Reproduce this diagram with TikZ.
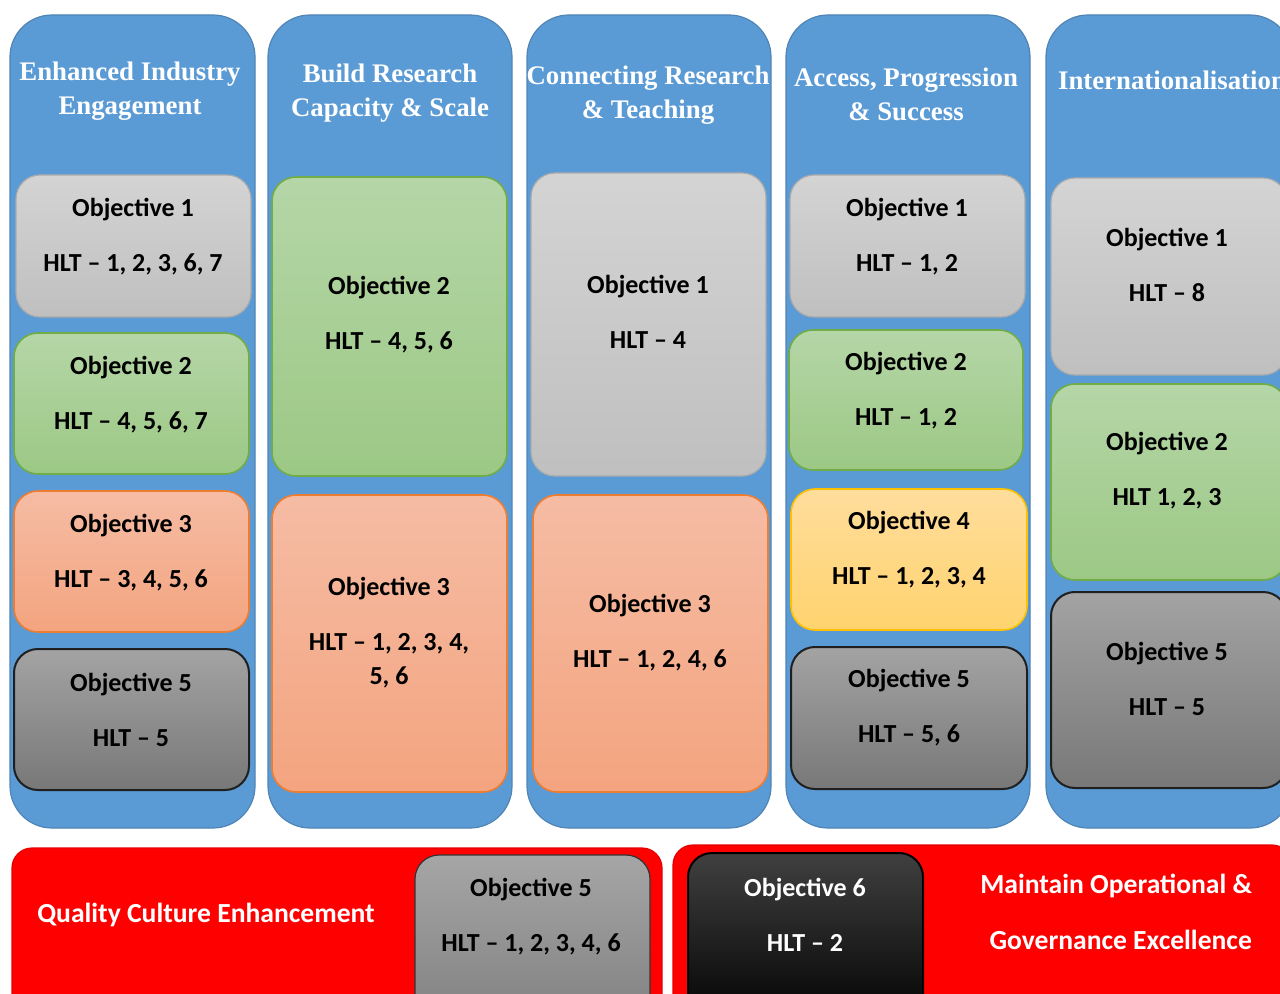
\documentclass[tikz,border=0pt]{standalone}
\usepackage{fontspec}
\setmainfont{Liberation Serif}
\newfontfamily\calibri{Carlito}
\definecolor{pillarblue}{HTML}{5B9BD5}
\definecolor{pillarline}{HTML}{4F84B5}
\definecolor{barred}{HTML}{FF0000}
\tikzset{
  pillar/.style={fill=pillarblue,draw=pillarline,line width=0.6pt,rounded corners=21pt}, % blue columns
  objgrey/.style={top color=black!17,bottom color=black!25,draw=black!33,line width=0.6pt,rounded corners=12pt},
  objgreen/.style={top color={rgb,255:red,181;green,214;blue,167},bottom color={rgb,255:red,156;green,200;blue,133},draw={rgb,255:red,112;green,173;blue,71},line width=0.8pt,rounded corners=12pt},
  objorange/.style={top color={rgb,255:red,245;green,188;blue,164},bottom color={rgb,255:red,244;green,164;blue,127},draw={rgb,255:red,237;green,125;blue,49},line width=0.8pt,rounded corners=12pt},
  objyellow/.style={top color={rgb,255:red,255;green,221;blue,156},bottom color={rgb,255:red,255;green,211;blue,110},draw={rgb,255:red,255;green,192;blue,0},line width=0.8pt,rounded corners=12pt},
  objdark/.style={top color=black!36,bottom color=black!53,draw=black!88,line width=1pt,rounded corners=12pt},
  objblack/.style={top color=black!75,bottom color=black,draw=black,line width=1pt,rounded corners=12pt},
  redbar/.style={fill=barred,draw=barred!90!black,line width=0.6pt,rounded corners=10pt}, % bottom bars
  head/.style={text=white,align=center,font={\bfseries\fontsize{13.4}{17}\selectfont}}, % pillar titles
  objtxt/.style={align=center,font={\calibri\bfseries\fontsize{13}{27.5}\selectfont}}, % objective texts
  bartxt/.style={text=white,font={\calibri\bfseries\fontsize{13.8}{28}\selectfont}}
}
\begin{document}
\begin{tikzpicture}[x=0.5pt,y=-0.5pt]
\clip (0,0) rectangle (1280,994);

% pillars
\draw[pillar] (10,15) rectangle (255,828);
\draw[pillar] (268,15) rectangle (512,828);
\draw[pillar] (527,15) rectangle (771,828);
\draw[pillar] (786,15) rectangle (1030,828);
\draw[pillar] (1046,15) rectangle (1292,828);

\node[head] (head1) at (130,91) {Enhanced Industry\\Engagement};
\node[head] (head2) at (390,93) {Build Research\\Capacity \& Scale};
\node[head] (head3) at (648,95) {Connecting Research\\\& Teaching};
\node[head] (head4) at (906,94) {Access, Progression\\\& Success};
\node[head] (head5) at (1172,80) {Internationalisation};

% pillar 1
\draw[objgrey] (16,175) rectangle (251,317);
\node[objtxt] (p1o1) at (133,237) {Objective 1\\HLT – 1, 2, 3, 6, 7};
\draw[objgreen] (14,333) rectangle (249,474);
\node[objtxt] (p1o2) at (131,395) {Objective 2\\HLT – 4, 5, 6, 7};
\draw[objorange] (14,491) rectangle (249,632);
\node[objtxt] (p1o3) at (131,553) {Objective 3\\HLT – 3, 4, 5, 6};
\draw[objdark] (14,649) rectangle (249,790);
\node[objtxt] (p1o5) at (131,710) {Objective 5\\HLT – 5};

% pillar 2
\draw[objgreen] (272,177) rectangle (507,476);
\node[objtxt] (p2o2) at (389,315) {Objective 2\\HLT – 4, 5, 6};
\draw[objorange] (272,495) rectangle (507,792);
\node[objtxt] (p2o3) at (389,633) {Objective 3\\HLT – 1, 2, 3, 4,\\[-10.5pt]5, 6};

% pillar 3
\draw[objgrey] (531,173) rectangle (766,476);
\node[objtxt] (p3o1) at (648,312) {Objective 1\\HLT – 4};
\draw[objorange] (533,495) rectangle (768,792);
\node[objtxt] (p3o3) at (650,633) {Objective 3\\HLT – 1, 2, 4, 6};

% pillar 4
\draw[objgrey] (790,175) rectangle (1025,317);
\node[objtxt] (p4o1) at (907,237) {Objective 1\\HLT – 1, 2};
\draw[objgreen] (789,330) rectangle (1023,470);
\node[objtxt] (p4o2) at (906,391) {Objective 2\\HLT – 1, 2};
\draw[objyellow] (791,489) rectangle (1027,630);
\node[objtxt] (p4o4) at (909,550) {Objective 4\\HLT – 1, 2, 3, 4};
\draw[objdark] (791,647) rectangle (1027,789);
\node[objtxt] (p4o5) at (909,708) {Objective 5\\HLT – 5, 6};

% pillar 5
\draw[objgrey] (1051,178) rectangle (1287,375);
\node[objtxt] (p5o1) at (1167,265) {Objective 1\\HLT – 8};
\draw[objgreen] (1051,384) rectangle (1287,580);
\node[objtxt] (p5o2) at (1167,471) {Objective 2\\HLT 1, 2, 3};
\draw[objdark] (1051,592) rectangle (1287,788);
\node[objtxt] (p5o5) at (1167,679) {Objective 5\\HLT – 5};

% bottom bars
\draw[redbar] (12,848) rectangle (662,1030);
\node[bartxt] (quality) at (206,915) {Quality Culture Enhancement};
\draw[objgrey,top color=black!35,bottom color=black!50,draw=black!80] (415,855) rectangle (650,1030);
\node[objtxt] (bo5) at (531,917) {Objective 5\\HLT – 1, 2, 3, 4, 6};

\draw[redbar] (673,845) rectangle (1292,1030);
\draw[objblack] (688,853) rectangle (923,1030);
\node[objtxt,text=white] (bo6) at (805,915) {Objective 6\\HLT – 2};
\node[bartxt,align=right,anchor=east] (maintain) at (1259,912) {Maintain Operational \&\\Governance Excellence};

\end{tikzpicture}
\end{document}
